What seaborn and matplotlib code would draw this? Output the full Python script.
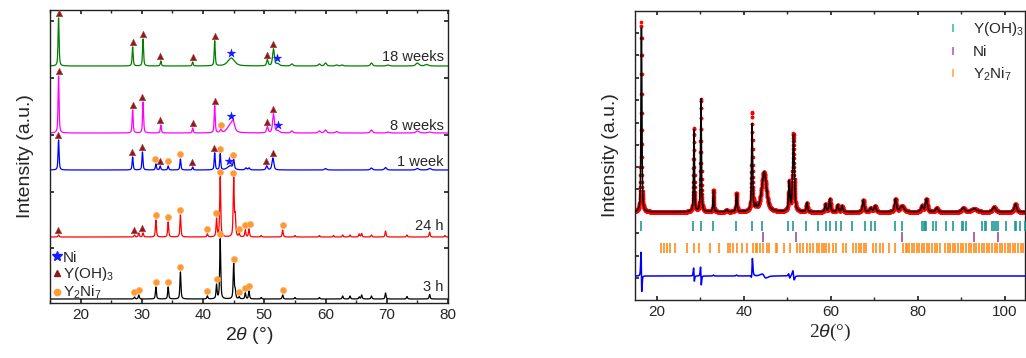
import numpy as np
import pandas as pd
import matplotlib
matplotlib.use("Agg")
import matplotlib.pyplot as plt
import seaborn as sns
from matplotlib.ticker import MultipleLocator
from matplotlib.lines import Line2D

sns.set_theme(style="ticks")
plt.rcParams['font.family'] = ['Liberation Sans', 'DejaVu Sans']
plt.rcParams['mathtext.fontset'] = 'custom'
plt.rcParams['mathtext.rm'] = 'Liberation Sans'
plt.rcParams['mathtext.it'] = 'Liberation Sans:italic'

# ---------------- Left panel data (peak positions, heights, widths) ----------------
samples = ["3 h", "24 h", "1 week", "8 weeks", "18 weeks"]
offsets = [4, 66, 133, 170, 237]
colors = ["#000000", "#ff0000", "#0000ff", "#ff00ff", "#008000"]

p3h_pos = [28.8, 29.5, 32.3, 34.3, 36.3, 40.7, 42.2, 42.8, 45.0, 45.25, 45.9, 46.9, 47.5, 49.5, 53.0, 55.0,
           59.0, 62.8, 64.0, 65.5, 65.9, 67.5, 69.8, 73.3, 77.0]
p3h_h = [2, 4, 12, 12, 27, 3, 14, 60, 35, 8, 2, 6, 8, 1.5, 4, 1.5, 1.5, 3, 3, 2, 4, 3, 6, 2.5, 4.5]
p3h_w = [0.2] * len(p3h_pos)

p24_pos = [16.4, 28.8, 29.5, 30.2, 32.3, 34.3, 36.3, 40.7, 42.2, 42.8, 45.0, 45.25, 45.9, 46.9, 47.5, 49.5,
           53.0, 55.0, 59.0, 61.3, 62.8, 64.0, 65.5, 65.9, 67.5, 69.8, 73.3, 77.0, 79.5]
p24_h = [2, 2, 4, 4, 17, 15, 22, 3, 18, 60, 58, 20, 3, 7, 8, 1.5, 7, 1.5, 1.5, 1.5, 2, 2, 3, 3.5, 2, 6, 2, 5,
         1.5]
p24_w = [0.2] * len(p24_pos)

p1w_pos = [16.4, 28.5, 30.1, 32.3, 33.0, 34.3, 36.3, 38.3, 41.9, 42.8, 44.4, 45.0, 47.0, 47.5, 50.4, 51.4,
           60.0, 67.5, 69.8, 75.0, 77.0]
p1w_h = [30, 13, 18, 6, 4, 4, 11, 3, 17, 16, 4, 9, 2, 2, 4, 12, 1.5, 2, 2.5, 1.5, 1.5]
p1w_w = [0.2, 0.2, 0.2, 0.2, 0.2, 0.2, 0.2, 0.2, 0.2, 0.2, 1.0, 0.25, 0.3, 0.3, 0.3, 0.35, 0.4, 0.4, 0.4,
         0.5, 0.5]

p8w_pos = [16.4, 28.5, 30.2, 33.1, 38.3, 41.9, 42.9, 44.4, 44.9, 50.5, 51.5, 52.2, 54.5, 59.0, 60.0, 61.8,
           67.5, 70.2, 75.0, 77.0]
p8w_h = [57, 23, 31, 8, 5, 27, 3, 7, 9, 6, 19, 2, 2, 2, 3, 1.5, 3, 1, 2, 1]
p8w_w = [0.2, 0.2, 0.2, 0.2, 0.2, 0.2, 0.3, 1.1, 0.6, 0.3, 0.35, 0.6, 0.4, 0.4, 0.4, 0.4, 0.4, 0.5, 0.6, 0.6]

p18w_pos = [16.4, 28.5, 30.2, 33.1, 38.3, 41.9, 44.6, 50.5, 51.5, 52.2, 54.5, 59.0, 60.0, 61.8, 62.7, 67.5,
            70.2, 75.0, 76.5]
p18w_h = [48, 19, 27, 5, 4, 25, 8, 6, 17, 2, 2, 2, 3, 1, 1, 3, 1, 3, 1.5]
p18w_w = [0.2, 0.2, 0.2, 0.2, 0.2, 0.2, 1.3, 0.3, 0.35, 0.6, 0.4, 0.4, 0.4, 0.4, 0.4, 0.4, 0.5, 0.6, 0.6]

# phase markers per sample
tri_pos = {"3 h": [], "24 h": [16.3, 28.7, 30.1],
           "1 week": [16.3, 28.4, 30.0, 32.9, 38.2, 41.8, 50.3, 51.4],
           "8 weeks": [16.4, 28.5, 30.1, 33.0, 38.3, 41.9, 50.4, 51.4],
           "18 weeks": [16.4, 28.5, 30.2, 33.0, 38.3, 41.9, 50.4, 51.5]}
circ_pos = {"3 h": [28.8, 29.5, 32.3, 34.3, 36.3, 40.7, 42.2, 42.8, 45.0, 45.9, 46.9, 47.5, 53.0],
            "24 h": [32.3, 34.3, 36.2, 40.7, 42.1, 42.8, 44.9, 45.8, 46.9, 47.6, 53.0],
            "1 week": [32.2, 34.2, 36.2, 42.8, 44.9],
            "8 weeks": [42.9], "18 weeks": []}
star_pos = {"3 h": [], "24 h": [], "1 week": [44.3], "8 weeks": [44.5, 52.2], "18 weeks": [44.6, 52.1]}

# ---------------- Right panel data ----------------
r_pos = [16.4, 28.5, 30.1, 33.0, 36.0, 38.3, 41.9, 42.8, 44.6, 50.4, 51.4, 54.5, 58.8, 59.8, 61.6, 62.6,
         67.5, 69.2, 70.2, 74.9, 76.4, 81.0, 82.0, 84.4, 90.5, 93.0, 97.6, 102.5]
r_obs_h = [190, 84, 113, 22, 2, 19, 99, 5, 40, 29, 78, 9, 8, 13, 7, 6, 12, 4, 6, 13, 6, 6, 13, 4, 4, 3, 5, 8]
r_calc_h = [184, 82, 113, 21, 2, 18, 87, 5, 40, 29, 77, 9, 8, 13, 7, 6, 12, 4, 6, 13, 6, 6, 13, 4, 4, 3, 5, 8]
r_calc_shift = [0.02, 0.015, 0.015, 0, 0, 0, -0.02, 0, 0.05, 0.02, 0.02, 0, 0, 0, 0, 0, 0, 0, 0, 0, 0, 0, 0,
                0, 0, 0, 0, 0]
r_w = [0.25, 0.25, 0.25, 0.25, 0.4, 0.3, 0.3, 0.3, 1.3, 0.35, 0.45, 0.35, 0.35, 0.4, 0.4, 0.4, 0.45, 0.5,
       0.5, 0.5, 1.0, 0.5, 0.55, 0.6, 0.8, 1.6, 0.8, 0.6]
r_base = 88
r_diff_base = 24

ticks_yoh = [16.3, 28.4, 30.1, 32.9, 38.2, 41.9, 44.1, 50.2, 51.4, 54.3, 57.0, 58.8, 59.8, 61.2, 62.4, 64.9,
             67.9, 69.2, 70.2, 74.8, 76.4, 81.0, 81.4, 81.7, 82.0, 83.6, 84.3, 86.5, 88.2, 90.1, 90.5, 91.2,
             94.9, 95.4, 95.8, 97.2, 97.6, 98.0, 98.5, 100.4, 102.3, 102.7, 103.5, 104.6]
ticks_ni = [44.5, 51.9, 76.4, 93.0, 98.5]
ticks_y2ni7 = [20.9, 21.5, 22.3, 23.1, 24.1, 26.9, 28.6, 29.6, 32.3, 34.3, 36.3, 36.8, 37.6, 38.4, 39.5,
               40.7, 42.2, 42.7, 43.1, 43.7, 44.5, 45.3, 45.8, 47.3, 47.6, 49.2, 50.6, 52.2, 52.9, 53.7,
               54.5, 55.2, 56.0, 56.8, 57.4, 57.9, 58.4, 59.0, 59.7, 60.6, 61.3, 62.9, 63.6, 65.2, 65.8,
               66.4, 67.0, 67.6, 68.2, 69.8, 70.5, 71.3, 72.1, 73.3, 74.7, 76.7, 77.2, 77.6, 78.1, 78.6,
               79.2, 79.8, 80.4, 80.9, 81.5, 82.1, 82.7, 83.3, 83.9, 84.5, 85.1, 86.3, 86.9, 87.5, 88.1,
               88.7, 89.3, 89.9, 90.5, 91.1, 91.7, 92.3, 92.9, 93.5, 94.1, 94.7, 95.3, 95.9, 96.5, 97.1,
               97.7, 98.3, 98.9, 99.5, 100.1, 100.7, 101.3, 101.9, 102.5, 103.1, 103.7, 104.3]


def pattern(x, pos, hts, wid, eta=0.6):
    y = np.zeros_like(x)
    for p, h, w in zip(pos, hts, wid):
        d = (x - p) / (w / 2.0)
        lor = 1.0 / (1.0 + d ** 2)
        gau = np.exp(-np.log(2) * d ** 2)
        y += h * (eta * lor + (1 - eta) * gau)
    return y


fig = plt.figure(figsize=(10.26, 3.58), dpi=100)
W, H = 1026.0, 358.0
axL = fig.add_axes([50 / W, (H - 303) / H, (448 - 50) / W, (303 - 10) / H])
axR = fig.add_axes([635 / W, (H - 300) / H, (1025 - 635) / W, (300 - 11) / H])

# ---------------- Left panel ----------------
x = np.round(np.arange(15, 80.001, 0.02), 3)
peak_sets = {"3 h": (p3h_pos, p3h_h, p3h_w), "24 h": (p24_pos, p24_h, p24_w),
             "1 week": (p1w_pos, p1w_h, p1w_w), "8 weeks": (p8w_pos, p8w_h, p8w_w),
             "18 weeks": (p18w_pos, p18w_h, p18w_w)}
label_y = {"3 h": 16, "24 h": 77, "1 week": 141, "8 weeks": 177, "18 weeks": 246}

for name, off, col in zip(samples, offsets, colors):
    pos, hts, wid = peak_sets[name]
    y = off + pattern(x, pos, hts, wid)
    sns.lineplot(x=x, y=y, ax=axL, color=col, lw=0.9, estimator=None, sort=False)

    def top(px):
        m = (x > px - 0.25) & (x < px + 0.25)
        return y[m].max()
    if tri_pos[name]:
        sns.scatterplot(x=tri_pos[name], y=[top(p) + 4.5 for p in tri_pos[name]], ax=axL, marker="^",
                        color="#8b1a1a", s=22, edgecolor="#b04040", linewidth=0.4, zorder=5)
    if circ_pos[name]:
        sns.scatterplot(x=circ_pos[name], y=[top(p) + 4.5 for p in circ_pos[name]], ax=axL, marker="o",
                        color="#ff9933", s=20, edgecolor="#ffb060", linewidth=0.4, zorder=5)
    if star_pos[name]:
        sns.scatterplot(x=star_pos[name], y=[top(p) + 5 for p in star_pos[name]], ax=axL, marker="*",
                        color="#1a1aff", s=55, linewidth=0, zorder=6)
    axL.text(79.3, label_y[name], name, ha="right", va="center", fontsize=10.5)

axL.set_xlim(15, 80)
axL.set_ylim(0, 293)
axL.xaxis.set_major_locator(MultipleLocator(10))
axL.xaxis.set_minor_locator(MultipleLocator(5))
axL.set_yticks([55, 111, 168, 225, 282])
axL.set_yticklabels([])
axL.tick_params(direction="in", which="both", top=True, right=True, labelsize=11, length=3)
axL.tick_params(which="minor", length=2)
axL.set_xlabel(r"2$\it{\theta}$ (°)", fontsize=14, labelpad=2)
axL.set_ylabel("Intensity (a.u.)", fontsize=14, labelpad=8)

handlesL = [Line2D([], [], ls="", marker="*", color="#1a1aff", ms=7),
            Line2D([], [], ls="", marker="^", color="#8b1a1a", ms=4.5),
            Line2D([], [], ls="", marker="o", color="#ff9933", ms=4.5)]
axL.legend(handlesL, ["Ni", "Y(OH)$_3$", "Y$_2$Ni$_7$"], loc="upper left", bbox_to_anchor=(-0.01, 0.2),
           frameon=False, fontsize=11, handlelength=0.6, handletextpad=0.1, labelspacing=0.05,
           borderaxespad=0)

# ---------------- Right panel ----------------
xr = np.round(np.arange(15, 105.001, 0.02), 3)
obs = r_base + pattern(xr, r_pos, r_obs_h, r_w)
calc = r_base + pattern(xr, [p + s for p, s in zip(r_pos, r_calc_shift)], r_calc_h, r_w)
diff = r_diff_base + (obs - calc)

sns.scatterplot(x=xr, y=obs, ax=axR, color="#ff0000", s=7, linewidth=0, zorder=2)
sns.lineplot(x=xr, y=calc, ax=axR, color="#000000", lw=1.1, estimator=None, sort=False, zorder=3)
sns.lineplot(x=xr, y=diff, ax=axR, color="#0000ff", lw=1.1, estimator=None, sort=False, zorder=3)

tick_rows = [(ticks_yoh, 74, "#1f9a96"), (ticks_ni, 63, "#9b4f9f"), (ticks_y2ni7, 52, "#ff8c1a")]
for tpos, yrow, col in tick_rows:
    sns.scatterplot(x=tpos, y=[yrow] * len(tpos), ax=axR, marker="|", color=col, s=45, linewidth=1.2,
                    zorder=4)

axR.set_xlim(14.94, 104.7)
axR.set_ylim(0, 289)
axR.xaxis.set_major_locator(MultipleLocator(20))
axR.xaxis.set_minor_locator(MultipleLocator(10))
axR.set_yticks([22, 44, 67, 88, 111, 133, 155, 177, 200, 222, 245, 267])
axR.set_yticklabels([])
axR.tick_params(direction="in", which="both", top=True, labelsize=11, length=3)
axR.tick_params(which="minor", length=2)
axR.set_xlabel(r"2$\theta$(°)", fontsize=14, labelpad=2, family="Liberation Serif")
axR.set_ylabel("Intensity (a.u.)", fontsize=14, labelpad=8)

handlesR = [Line2D([], [], ls="", marker="|", color="#6fc0bb", ms=6, mew=1.5),
            Line2D([], [], ls="", marker="|", color="#b77fc0", ms=6, mew=1.5),
            Line2D([], [], ls="", marker="|", color="#ffb870", ms=6, mew=1.5)]
axR.legend(handlesR, ["Y(OH)$_3$", "Ni", "Y$_2$Ni$_7$"], loc="upper left", bbox_to_anchor=(0.78, 0.99),
           frameon=False, fontsize=11, handlelength=1.0, handletextpad=0.8, labelspacing=0.45,
           borderaxespad=0)

for ax in (axL, axR):
    for s in ax.spines.values():
        s.set_linewidth(1.0)
        s.set_color("#222222")

fig.savefig("out.png", dpi=100)
